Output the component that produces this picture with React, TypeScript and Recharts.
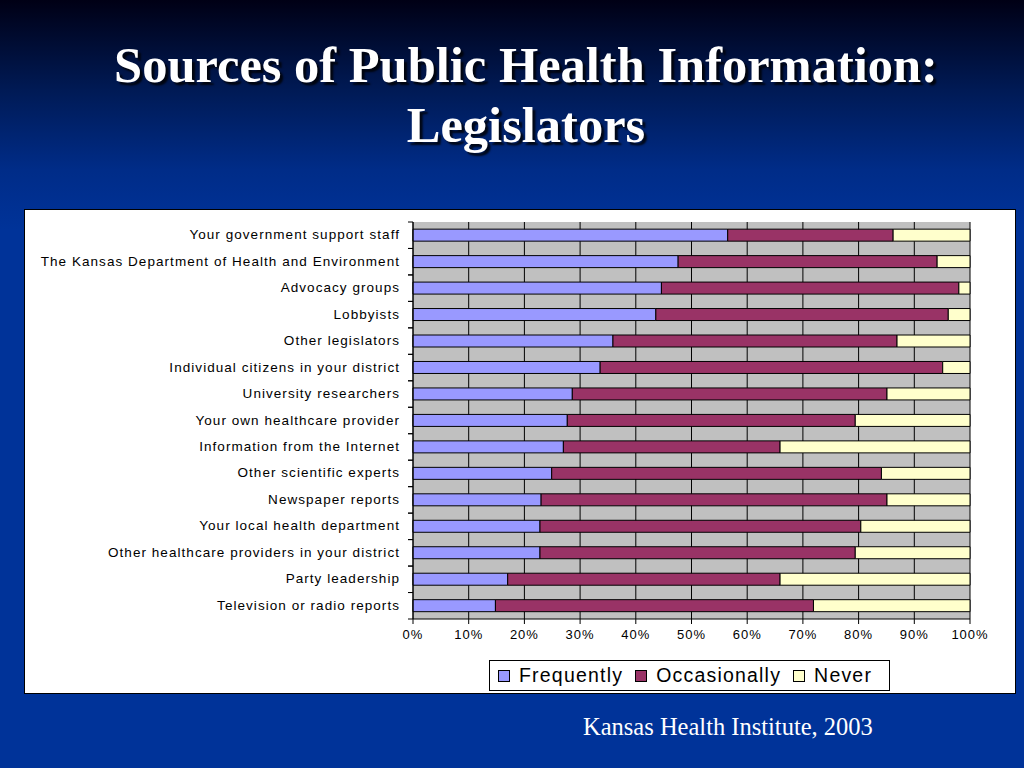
import { BarChart, Bar, XAxis, YAxis, CartesianGrid, Legend } from 'recharts';

const categories = [
  'Your government support staff',
  'The Kansas Department of Health and Environment',
  'Advocacy groups',
  'Lobbyists',
  'Other legislators',
  'Individual citizens in your district',
  'University researchers',
  'Your own healthcare provider',
  'Information from the Internet',
  'Other scientific experts',
  'Newspaper reports',
  'Your local health department',
  'Other healthcare providers in your district',
  'Party leadership',
  'Television or radio reports',
];

const frequently = [56.5, 47.6, 44.6, 43.6, 35.9, 33.6, 28.6, 27.7, 27.0, 24.9, 23.0, 22.8, 22.8, 17.0, 14.8];
const occasionally = [29.7, 46.5, 53.4, 52.5, 51.0, 61.5, 56.5, 51.7, 38.9, 59.2, 62.1, 57.6, 56.6, 48.9, 57.1];
const never = [13.8, 5.9, 2.0, 3.9, 13.1, 4.9, 14.9, 20.6, 34.1, 15.9, 14.9, 19.6, 20.6, 34.1, 28.1];

const xTicks = [0, 10, 20, 30, 40, 50, 60, 70, 80, 90, 100];

const data = categories.map((name, i) => ({
  name,
  frequently: frequently[i],
  occasionally: occasionally[i],
  never: never[i],
}));

const AXIS_X = 388;
const font = 'Arial, "Liberation Sans", sans-serif';

// Excel-style category ticks: label in the band centre, tick mark on the band edges
const CategoryTick = (props: any) => {
  const { y, payload } = props;
  const half = payload.offset ?? 13;
  return (
    <g>
      <line x1={AXIS_X - 5} x2={AXIS_X} y1={y - half} y2={y - half} stroke="#000" />
      <line x1={AXIS_X - 5} x2={AXIS_X} y1={y + half} y2={y + half} stroke="#000" />
      <text x={AXIS_X - 13} y={y} dy={4} textAnchor="end" fontSize={13.5} fill="#000" fontFamily={font} letterSpacing={1.05}>
        {payload.value}
      </text>
    </g>
  );
};

const legendItems = [
  { label: 'Frequently', color: '#9999FF' },
  { label: 'Occasionally', color: '#993366' },
  { label: 'Never', color: '#FFFFCC' },
];

const ChartLegend = () => (
  <div
    style={{
      border: '1px solid #000',
      background: '#fff',
      display: 'flex',
      alignItems: 'center',
      padding: '0 0 0 8px',
      fontFamily: font,
      fontSize: 19.5,
      letterSpacing: 1.2,
      color: '#000',
      width: 401,
      boxSizing: 'border-box',
      height: 31,
    }}
  >
    {legendItems.map((it) => (
      <span key={it.label} style={{ display: 'flex', alignItems: 'center', marginRight: 12 }}>
        <span style={{ width: 10, height: 10, background: it.color, border: '1px solid #000', marginRight: 9, display: 'inline-block' }} />
        {it.label}
      </span>
    ))}
  </div>
);

export default function App() {
  return (
    <div
      style={{
        position: 'fixed',
        top: 0,
        left: 0,
        width: 1024,
        height: 768,
        overflow: 'hidden',
        background: 'linear-gradient(to bottom, #000015 0px, #001a55 90px, #002c88 170px, #003399 230px, #003399 768px)',
      }}
    >
      <div
        style={{
          position: 'absolute',
          top: 35,
          left: 14,
          width: 1024,
          textAlign: 'center',
          color: '#fff',
          fontFamily: '"Liberation Serif", "Times New Roman", serif',
          fontWeight: 'bold',
          fontSize: 50.5,
          lineHeight: '60px',
          textShadow: '3px 3px 2px rgba(0,0,0,0.8)',
        }}
      >
        Sources of Public Health Information:
        <br />
        Legislators
      </div>

      <div
        style={{
          position: 'absolute',
          left: 24,
          top: 209,
          width: 990,
          height: 483,
          background: '#fff',
          border: '1px solid #000',
        }}
      >
        <BarChart
          width={990}
          height={483}
          data={data}
          layout="vertical"
          barCategoryGap="27%"
          margin={{ top: 12, right: 45, bottom: 44, left: 0 }}
        >
          <CartesianGrid horizontal={false} vertical stroke="#000" fill="#C0C0C0" />
          <XAxis
            type="number"
            domain={[0, 100]}
            ticks={xTicks}
            interval={0}
            tickFormatter={(v) => `${v}%`}
            axisLine={{ stroke: '#000' }}
            tickLine={{ stroke: '#000' }}
            tickSize={5}
            tickMargin={6}
            tick={{ fontSize: 13, fill: '#000', fontFamily: font, letterSpacing: 1 }}
            height={30}
          />
          <YAxis
            type="category"
            dataKey="name"
            width={AXIS_X}
            interval={0}
            axisLine={{ stroke: '#000' }}
            tickLine={false}
            tick={<CategoryTick />}
          />
          <Legend
            verticalAlign="middle"
            align="center"
            layout="horizontal"
            wrapperStyle={{ top: 450, left: 464, width: 'auto' }}
            content={() => <ChartLegend />}
          />
          <Bar dataKey="frequently" name="Frequently" stackId="a" fill="#9999FF" stroke="#000" strokeWidth={1} isAnimationActive={false} />
          <Bar dataKey="occasionally" name="Occasionally" stackId="a" fill="#993366" stroke="#000" strokeWidth={1} isAnimationActive={false} />
          <Bar dataKey="never" name="Never" stackId="a" fill="#FFFFCC" stroke="#000" strokeWidth={1} isAnimationActive={false} />
        </BarChart>
      </div>

      <div
        style={{
          position: 'absolute',
          left: 583,
          top: 713,
          color: '#fff',
          fontFamily: '"Liberation Serif", "Times New Roman", serif',
          fontSize: 24.5,
        }}
      >
        Kansas Health Institute, 2003
      </div>
    </div>
  );
}
